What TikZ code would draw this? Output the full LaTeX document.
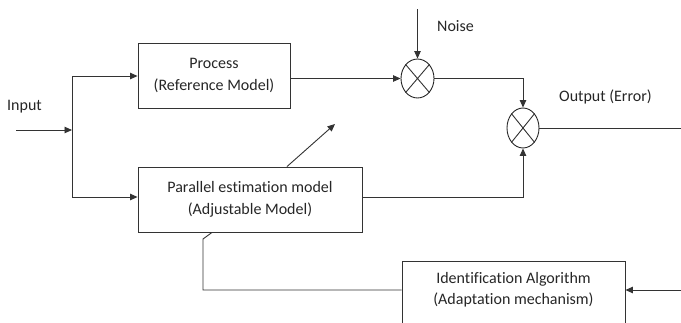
\documentclass[tikz,border=0pt]{standalone}
\usepackage{fontspec}
\setmainfont{Carlito}[Ligatures=CommonOff]
\usetikzlibrary{arrows.meta,shapes.geometric}
\begin{document}
\begin{tikzpicture}[x=1pt,y=-1pt,
  every node/.style={font=\fontsize{16}{21.5}\selectfont, text=black!85},
  blk/.style={draw=black!80, line width=0.9pt, rectangle, inner sep=0pt, align=center},
  sumnode/.style={draw=black!85, line width=0.9pt, ellipse, inner sep=0pt, minimum width=33pt, minimum height=39pt},
  wire/.style={draw=black!80, line width=0.9pt},
  arr/.style={wire, -{Triangle[length=7.5pt,width=6.5pt]}},
  lbl/.style={inner sep=0pt}]
\clip (0,0) rectangle (681,322);
\useasboundingbox (0,0) rectangle (681,322);
% blocks
\node[blk, minimum width=152pt, minimum height=65pt] (proc) at (214,75.5) {Process\\(Reference Model)};
\node[blk, minimum width=224pt, minimum height=65pt] (par) at (250,199.5) {Parallel estimation model\\(Adjustable Model)};
\node[blk, minimum width=223pt, minimum height=72pt, anchor=north] (id) at (513.5,261) {};
\node[lbl, align=center] (idt) at (513.5,289.5) {Identification Algorithm\\(Adaptation mechanism)};
% summing junctions
\node[sumnode] (s1) at (417.5,78.5) {};
\node[sumnode, minimum width=32pt, minimum height=40pt] (s2) at (523,128) {};
\draw[wire] (s1.north east) -- (s1.south west) (s1.north west) -- (s1.south east);
\draw[wire] (s2.north east) -- (s2.south west) (s2.north west) -- (s2.south east);
% labels
\node[lbl] (inl) at (24.5,107) {Input};
\node[lbl] (noisel) at (455.5,26) {Noise};
\node[lbl] (outl) at (605.5,97) {Output (Error)};
% coordinates
\coordinate (in) at (16,130);
\coordinate (j) at (72,130);
\coordinate (noise) at (417.5,9);
\coordinate (out) at (681,128);
\coordinate (adj) at (335,124);
\coordinate (fb1) at (203,239);
\coordinate (fb2) at (203,290);
\coordinate (idin) at (681,290);
% connectors
\draw[arr] (in) -- (j);
\draw[arr] (j) |- (proc.west |- 0,76);
\draw[arr] (j) |- ([yshift=2.5pt]par.west);
\draw[arr] (proc.east |- s1.west) -- (s1.west);
\draw[arr] (noise) -- (s1.north);
\draw[arr] (s1.east) -| (s2.north);
\draw[arr] ([yshift=2.5pt]par.east) -| (s2.south);
\draw[wire] (s2.east) -- (out);
\draw[arr] ([xshift=37pt]par.north) -- (adj);
\draw[wire] ([xshift=-38pt]par.south) -- (fb1) -- (fb2) -- (id.west |- fb2);
\draw[arr] (idin) -- (id.east |- idin);
\end{tikzpicture}
\end{document}
